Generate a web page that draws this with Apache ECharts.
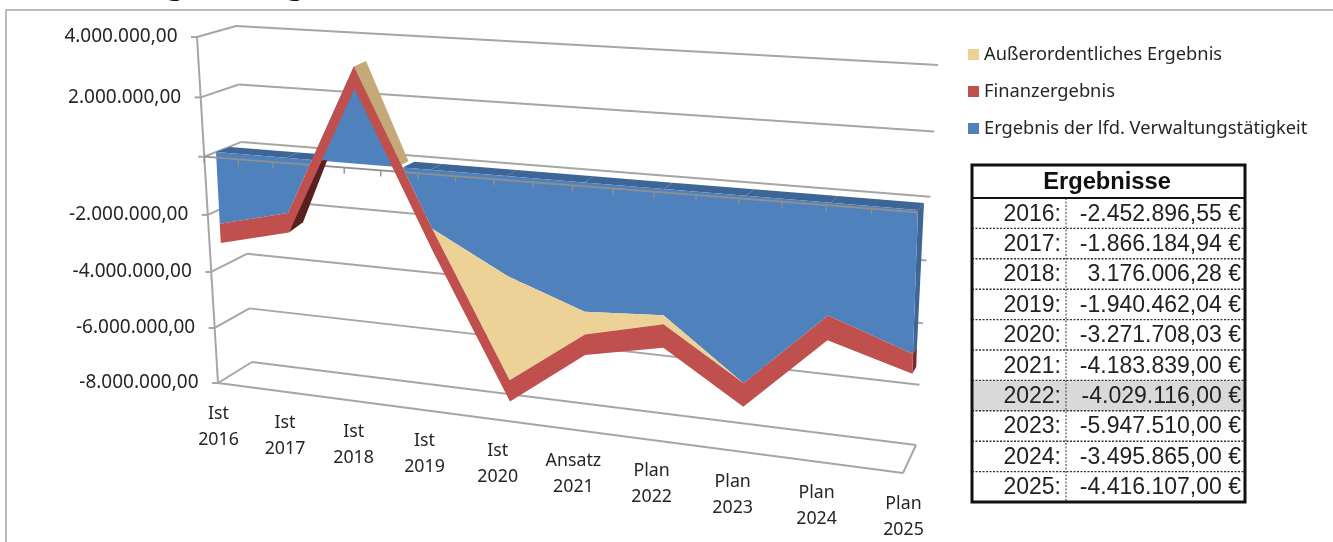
<!DOCTYPE html>
<html><head><meta charset="utf-8">
<style>html,body{margin:0;padding:0;background:#fff}#c{width:1333px;height:542px}</style>
<script src="https://cdn.jsdelivr.net/npm/echarts@6/dist/echarts.min.js"></script>
</head><body><div id="c"></div>
<script>
// ---- data ----
const categories = [['Ist','2016'],['Ist','2017'],['Ist','2018'],['Ist','2019'],['Ist','2020'],['Ansatz','2021'],['Plan','2022'],['Plan','2023'],['Plan','2024'],['Plan','2025']];
const ergebnis = [-2452896.55,-1866184.94,3176006.28,-1940462.04,-3271708.03,-4183839,-4029116,-5947510,-3495865,-4416107];
const ausserordentlich = [0,0,0,0,-3490000,-750000,-290000,0,0,0];
const finanz = [-670000,-660000,-720000,-750000,-720000,-680000,-770000,-760000,-780000,-620000];
const yTicks = [4000000,2000000,0,-2000000,-4000000,-6000000,-8000000];
const yTickLabels = ['4.000.000,00','2.000.000,00','','-2.000.000,00','-4.000.000,00','-6.000.000,00','-8.000.000,00'];
const tableTitle = 'Ergebnisse';
const tableYears = ['2016:','2017:','2018:','2019:','2020:','2021:','2022:','2023:','2024:','2025:'];
const tableValues = ['-2.452.896,55 €','-1.866.184,94 €','3.176.006,28 €','-1.940.462,04 €','-3.271.708,03 €','-4.183.839,00 €','-4.029.116,00 €','-5.947.510,00 €','-3.495.865,00 €','-4.416.107,00 €'];
const highlightRow = 6;
const names = ['Außerordentliches Ergebnis','Finanzergebnis','Ergebnis der lfd. Verwaltungstätigkeit'];

// ---- stacked levels ----
const levelTan = ergebnis.map((v,i)=>v+ausserordentlich[i]);
const levelRed = levelTan.map((v,i)=>v+finanz[i]);

// ---- oblique projection of the hidden cartesian grid ----
function homography(q){
  const [p0,p1,p2,p3]=q;
  const dx1=p1[0]-p2[0],dx2=p3[0]-p2[0],dx3=p0[0]-p1[0]+p2[0]-p3[0];
  const dy1=p1[1]-p2[1],dy2=p3[1]-p2[1],dy3=p0[1]-p1[1]+p2[1]-p3[1];
  const den=dx1*dy2-dx2*dy1;
  const g=(dx3*dy2-dx2*dy3)/den,h=(dx1*dy3-dx3*dy1)/den;
  const a=p1[0]-p0[0]+g*p1[0],b=p3[0]-p0[0]+h*p3[0],c=p0[0];
  const d=p1[1]-p0[1]+g*p1[1],e=p3[1]-p0[1]+h*p3[1],f=p0[1];
  return (u,t)=>{const w=g*u+h*t+1;return [(a*u+b*t+c)/w,(d*u+e*t+f)/w];};
}
const frontPlane=homography([[197,37],[925,73],[903,473],[218,383]]);
const backPlane =homography([[236,26],[938,65],[916,445],[252,362]]);
const areaPlane0=homography([[216,152],[918,210],[909,467],[228,381]]); // 0 .. -8M
const areaPlane=(u,t)=>areaPlane0(u,1.5*t-0.5);
const depth=u=>[14-8*u,-5-2*u];

function norm(params,api,i,v){
  // fractional positions between two categories are interpolated
  const i0=Math.min(Math.floor(i),categories.length-2),f=i-i0;
  const a=api.coord([i0,v]),b=api.coord([i0+1,v]),s=params.coordSys;
  return [(a[0]+(b[0]-a[0])*f-s.x)/s.width,(a[1]-s.y)/s.height];
}
const poly=(points,fill,z2)=>({type:'polygon',z2:z2||0,shape:{points},style:{fill}});
const line=(a,b,stroke,w,z2)=>({type:'line',z2:z2||0,shape:{x1:a[0],y1:a[1],x2:b[0],y2:b[1]},style:{stroke,lineWidth:w||2}});
const GRID='#a6a6a6';
const baseX=categories.map((c,i)=>i);

// wall, floor, axis and labels
function renderWalls(params,api){
  const ch=[];
  const U=v=>norm(params,api,0,v)[1];
  yTicks.forEach((v,k)=>{
    const t=U(v);
    ch.push(line(backPlane(0,t),backPlane(1,t),GRID));
    ch.push(line(frontPlane(0,t),backPlane(0,t),GRID));
    const f=frontPlane(0,t);
    ch.push(line([f[0]-6,f[1]],f,GRID));
    if(yTickLabels[k]) ch.push({type:'text',style:{x:f[0]-19.5,y:f[1],text:yTickLabels[k],align:'right',verticalAlign:'middle',font:'19px "Noto Sans"',fill:'#262626'}});
  });
  const top=U(yTicks[0]),bot=U(yTicks[6]);
  ch.push(line(frontPlane(0,top),frontPlane(0,bot),GRID));
  ch.push(line(frontPlane(0,bot),frontPlane(1,bot),GRID));
  ch.push(line(frontPlane(1,bot),backPlane(1,bot),GRID));
  categories.forEach((c,i)=>{
    const n=norm(params,api,i,yTicks[6]);
    const f=frontPlane(n[0],n[1]);
    ch.push({type:'text',style:{x:f[0]+0.5,y:f[1]+44,text:c.join('\n'),align:'center',verticalAlign:'middle',lineHeight:26,font:'17.8px "Noto Sans"',fill:'#262626'}});
  });
  return {type:'group',children:ch};
}
// zero axis + ticks, above the areas
function renderAxis(params,api){
  const ch=[];const t=norm(params,api,0,0)[1];
  ch.push(line(frontPlane(0,t),frontPlane(1,t),'#8f8f8f',1.8));
  for(let k=0;k<=18;k++){const p=frontPlane(k/18,t);ch.push(line(p,[p[0],p[1]+6],'#8f8f8f',1.4));}
  return {type:'group',children:ch};
}
// Band between two level arrays on the area plane
function bandPoints(params,api,a,b){
  const pts=[];
  a.forEach((v,i)=>{const n=norm(params,api,i,v);pts.push(areaPlane(n[0],n[1]));});
  for(let i=b.length-1;i>=0;i--){const n=norm(params,api,i,b[i]);pts.push(areaPlane(n[0],n[1]));}
  return pts;
}
const P=(params,api,i,v)=>{const n=norm(params,api,i,v);return areaPlane(n[0],n[1]);};

function renderBlue(params,api){
  const col=api.visual('color');
  const ch=[];
  const zero=ergebnis.map(()=>0);
  // top face along the zero line where the area hangs below it
  for(let i=0;i<ergebnis.length-1;i++){
    const a=ergebnis[i],b=ergebnis[i+1];
    if(a>=0&&b>=0)continue;
    let s=i,e=i+1;
    if(a>0) s=i+a/(a-b);
    if(b>0) e=i+a/(a-b);
    const ps=P(params,api,s,0),pe=P(params,api,e,0);
    const ds=depth(s/9),de=depth(e/9);
    ch.push(poly([ps,pe,[pe[0]+de[0],pe[1]+de[1]],[ps[0]+ds[0],ps[1]+ds[1]]],'#3d6595'));
  }
  // right side face
  const last=ergebnis.length-1;
  const rt=P(params,api,last,0),rb=P(params,api,last,ergebnis[last]),d=depth(1);
  ch.push(poly([rt,rb,[rb[0]+d[0]-2,rb[1]+d[1]],[rt[0]+d[0],rt[1]+d[1]]],'#3d6595'));
  ch.push(poly(bandPoints(params,api,ergebnis,zero),col));
  return {type:'group',children:ch};
}
function renderTan(params,api){
  const col=api.visual('color');
  const ch=[];
  // upper surface falling from the 2018 peak to the zero plane
  const i=ergebnis.findIndex(v=>v>0);
  const a=ergebnis[i],b=levelRed[i+1],x=i+a/(a-b);
  const p1=P(params,api,i,a),p2=P(params,api,x,0);
  const d1=depth(i/9),d2=depth(x/9);
  ch.push(poly([p1,p2,[p2[0]+d2[0],p2[1]+d2[1]],[p1[0]+d1[0],p1[1]+d1[1]]],'#c4aa78'));
  ch.push(poly(bandPoints(params,api,ergebnis,levelTan),col));
  return {type:'group',children:ch};
}
function renderRed(params,api){
  const col=api.visual('color');
  const ch=[];
  // under surface rising from 2017 to the zero plane
  const i=ergebnis.findIndex(v=>v>0)-1;
  const a=levelRed[i],b=ergebnis[i+1],x=i+a/(a-b);
  const p1=P(params,api,i,a),p2=P(params,api,x,0);
  const d1=depth(i/9);
  const q1=[p1[0]+d1[0]+1,p1[1]+d1[1]-5];
  const slope=(p2[0]-p1[0])/(p2[1]-p1[1]);
  const q2=[q1[0]+(p2[1]-q1[1])*slope,p2[1]];
  ch.push(poly([p1,p2,q2,q1],'#5a1f1f'));
  // right side
  const last=ergebnis.length-1;
  const r1=P(params,api,last,levelTan[last]),r2=P(params,api,last,levelRed[last]);
  const d=depth(1);
  ch.push(poly([r1,r2,[r2[0]+d[0]-2,r2[1]+d[1]],[r1[0]+d[0]-2,r1[1]+d[1]]],'#7a2c2a'));
  ch.push(poly(bandPoints(params,api,levelTan,levelRed),col));
  return {type:'group',children:ch};
}

// ---- results table ----
function tableGraphics(){
  const L=972,R=1245,T=165,H=198,RH=30.4,C=1066;
  const g=[];
  const rule=(x1,y1,x2,y2,w,c,dash)=>({type:'line',shape:{x1,y1,x2,y2},style:{stroke:c||'#000',lineWidth:w,lineDash:dash}});
  g.push({type:'rect',shape:{x:L,y:H+highlightRow*RH,width:R-L,height:RH},style:{fill:'#d9d9d9'}});
  g.push({type:'text',style:{x:(L+R)/2-1.5,y:(T+H)/2+1,text:tableTitle,align:'center',verticalAlign:'middle',font:'bold 23.7px "Liberation Sans"',fill:'#111'}});
  tableYears.forEach((y,i)=>{
    const cy=H+(i+.5)*RH+1;
    g.push({type:'text',style:{x:C-5,y:cy,text:y,align:'right',verticalAlign:'middle',font:'23px "Liberation Sans"',fill:'#222'}});
    g.push({type:'text',style:{x:R-4,y:cy,text:tableValues[i],align:'right',verticalAlign:'middle',font:'23px "Liberation Sans"',fill:'#222'}});
    if(i>0) g.push(rule(L,H+i*RH,R,H+i*RH,1.4,'#333',[2,1.5]));
  });
  g.push(rule(C,H,C,H+10*RH,1.2,'#555',[2,1.5]));
  g.push(rule(L,H,R,H,2,'#111'));
  g.push({type:'rect',shape:{x:L,y:T,width:R-L,height:H+10*RH-T},style:{fill:'none',stroke:'#111',lineWidth:3}});
  return g;
}

const chart=echarts.init(document.getElementById('c'),null,{renderer:'canvas'});
chart.setOption({
  animation:false,
  backgroundColor:'#fff',
  title:{text:'Entwicklung des Ergebnisses',left:3,top:-32,padding:0,textStyle:{fontFamily:'Noto Sans',fontSize:32,fontWeight:'normal',color:'#111'}},
  legend:{orient:'vertical',left:968,top:44,padding:0,itemWidth:11,itemHeight:11,itemGap:16,icon:'rect',
    data:names,textStyle:{fontFamily:'Noto Sans',fontSize:18.3,color:'#262626',lineHeight:21},selectedMode:false},
  grid:{left:100,right:500,top:40,bottom:40},
  xAxis:{type:'category',boundaryGap:false,data:categories.map(c=>c.join(' ')),show:false},
  yAxis:{type:'value',min:-8000000,max:4000000,interval:2000000,show:false},
  graphic:[
    {type:'rect',silent:true,z:0,shape:{x:6,y:10,width:1400,height:600},style:{fill:'none',stroke:'#a6a6a6',lineWidth:1.5}},
    ...tableGraphics()
  ],
  series:[
    {type:'custom',name:'walls',z:1,silent:true,coordinateSystem:'cartesian2d',renderItem:(p,a)=>p.dataIndex===0?renderWalls(p,a):null,data:baseX.map(i=>[i,0]),clip:false},
    {type:'custom',name:names[2],z:2,itemStyle:{color:'#4f81bd'},coordinateSystem:'cartesian2d',renderItem:(p,a)=>p.dataIndex===0?renderBlue(p,a):null,data:ergebnis.map((v,i)=>[i,v]),clip:false},
    {type:'custom',name:'axis',z:3,silent:true,coordinateSystem:'cartesian2d',renderItem:(p,a)=>p.dataIndex===0?renderAxis(p,a):null,data:baseX.map(i=>[i,0]),clip:false},
    {type:'custom',name:names[0],z:4,itemStyle:{color:'#ecd297'},coordinateSystem:'cartesian2d',renderItem:(p,a)=>p.dataIndex===0?renderTan(p,a):null,data:ausserordentlich.map((v,i)=>[i,v]),clip:false},
    {type:'custom',name:names[1],z:5,itemStyle:{color:'#c0504d'},coordinateSystem:'cartesian2d',renderItem:(p,a)=>p.dataIndex===0?renderRed(p,a):null,data:finanz.map((v,i)=>[i,v]),clip:false}
  ]
});
</script></body></html>
